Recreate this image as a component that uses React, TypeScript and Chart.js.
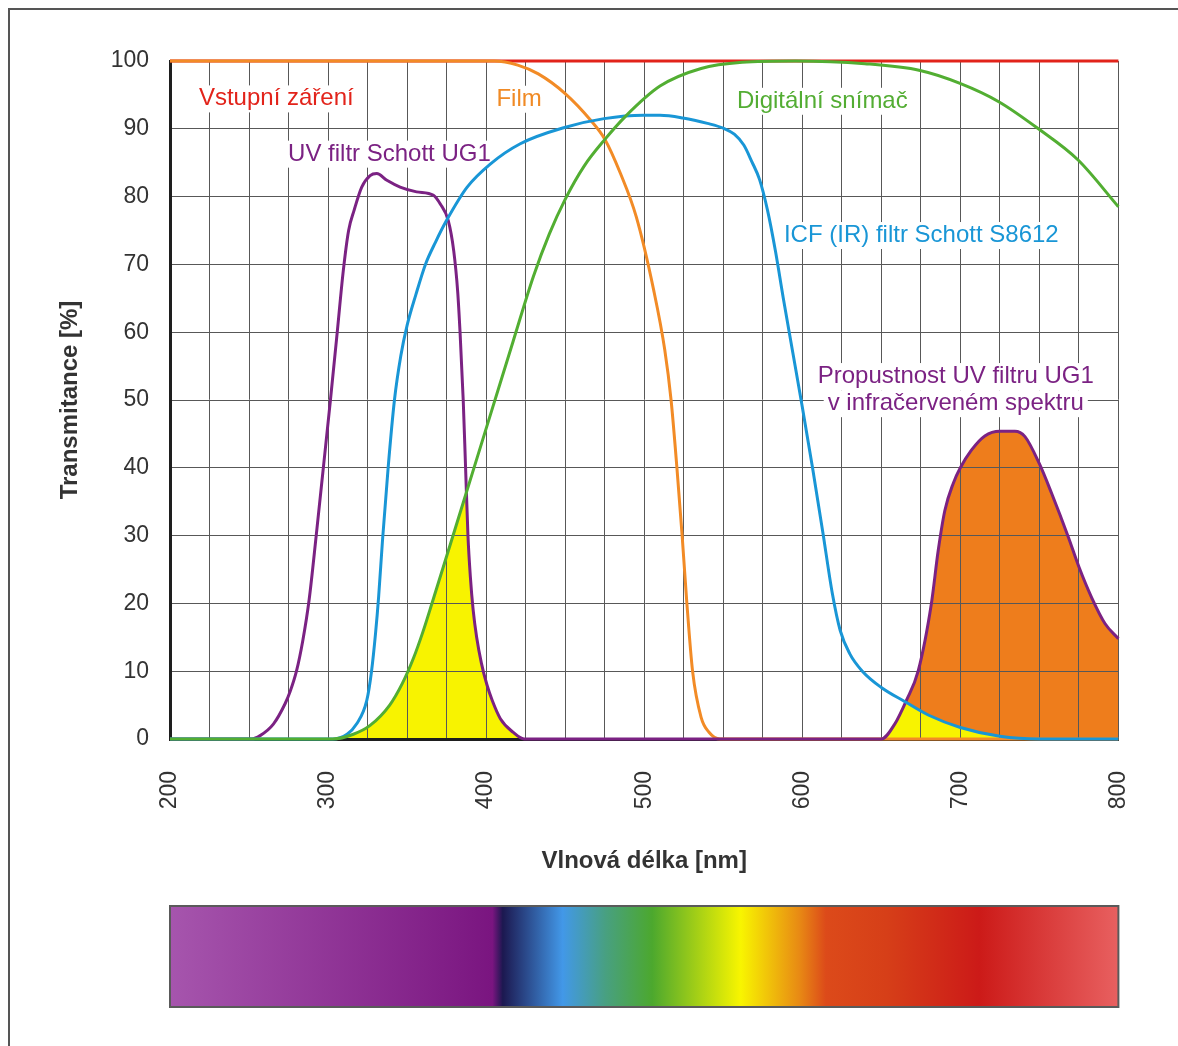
import { useEffect, useRef } from 'react';
import { Chart, registerables } from 'chart.js';

Chart.register(...registerables);

// ---------- data (wavelength nm -> transmittance %) ----------
const inputNm = [200, 800];
const inputT = [100, 100];

const filmNm = [200, 405, 420, 433, 450, 466, 475, 485, 495, 506, 513, 517, 520.7, 524, 527, 530.6, 536, 541, 548, 800];
const filmT = [100, 100, 99.4, 98.1, 95.2, 91.3, 88.5, 83.4, 77, 66.2, 57.4, 50, 40, 30, 20, 10, 3.2, 1, 0, 0];

const sensorNm = [200, 303, 316, 326.6, 339, 347, 354, 360, 366, 378, 391, 404, 417, 430, 440, 450, 462, 475, 488, 510, 536, 562, 595.6, 639.6, 674.5, 699.8, 724.3, 749.4, 774.5, 800];
const sensorT = [0, 0, 0.7, 2.0, 5.0, 8.2, 11.9, 15.8, 20.2, 29.2, 39, 48.8, 58.6, 68.3, 74.5, 79.6, 84.5, 88.4, 91.8, 96.3, 98.9, 99.8, 100, 99.6, 98.6, 96.7, 94, 90, 85.4, 78.5];

const icfNm = [200, 303, 312, 318, 324.5, 327.5, 330, 332, 334.5, 338, 342, 346, 350, 355.5, 361.6, 368, 375, 388, 402.6, 421.6, 449.6, 474.6, 499.5, 510, 524.5, 540, 550, 557, 563, 568, 573, 578, 583, 588, 594, 600, 606.5, 613, 619, 624, 630, 638, 650, 665, 680, 700, 725, 750, 800];
const icfT = [0, 0, 0.7, 2.2, 5.7, 10, 15.5, 21, 29.5, 40, 50, 56.5, 61, 65.5, 70, 73.3, 76.5, 81.4, 84.8, 87.8, 90.2, 91.5, 92, 92, 91.6, 90.8, 90.1, 89.2, 87.6, 85.2, 82.5, 78, 72, 65, 57, 49, 40, 30.5, 21.5, 16, 12.6, 10, 7.6, 5.5, 3.5, 1.7, 0.4, 0, 0];

const ug1Nm = [200, 251.7, 257, 265.4, 272.8, 276, 280, 284, 288, 292.5, 297, 301.5, 305.8, 309.6, 313, 316.5, 321.3, 326.6, 330.8, 337.2, 345.6, 356, 366.7, 371, 376, 379.5, 382, 383.5, 385.5, 387, 388.5, 390, 391.8, 394, 397, 400.5, 404, 409, 417, 424, 650, 658.5, 665.9, 673.3, 681.7, 686, 690.2, 695.5, 700, 707, 715.5, 725, 734.5, 740.9, 750, 757.8, 768.3, 775, 783, 791.6, 800];
const ug1T = [0, 0, 0.5, 2.2, 5.2, 7, 10, 14.5, 20.5, 30, 40, 50, 60, 69, 75, 78, 81.4, 83.1, 83.4, 82.4, 81.4, 80.7, 80.2, 78.9, 76.5, 72, 66, 60, 50, 40, 30, 24, 19, 15, 11.2, 8, 5.6, 3, 1, 0, 0, 2.2, 5.7, 10, 20, 27.8, 33.7, 37.7, 40, 42.6, 44.7, 45.4, 45.4, 44.6, 40.6, 36.2, 29.8, 25.4, 20.9, 17, 14.8];

// annotation labels (position in data units)
const labelTexts = ['Vstupní záření', 'Film', 'Digitální snímač', 'UV filtr Schott UG1', 'ICF (IR) filtr Schott S8612', 'Propustnost UV filtru UG1', 'v infračerveném spektru'];
const labelNm = [218.3, 406.5, 558.7, 274.7, 588.4, 697.1, 697.1];
const labelT = [93.45, 93.4, 93.1, 85.3, 73.3, 52.5, 48.5];
const labelAlign = ['left', 'left', 'left', 'left', 'left', 'center', 'center'];
const labelColors = ['#e2231a', '#f08a25', '#53ad33', '#7b2283', '#1996d6', '#7b2283', '#7b2283'];

// spectrum bar stops
const spectrumNm = [200, 404, 410.5, 448.4, 475.8, 505, 561, 598, 615, 653, 712, 800];
const spectrumColors = ['#a655ad', '#7a1580', '#1c1850', '#4298e8', '#48a080', '#4ca82e', '#f8f500', '#e88a14', '#dc4a1a', '#d63f18', '#cc1a18', '#e86060'];

const xTicksLabeled = [200, 300, 400, 500, 600, 700, 800];

const C_RED = '#e2231a';
const C_FILM = '#f28b26';
const C_GREEN = '#52ae32';
const C_BLUE = '#1996d6';
const C_PURPLE = '#7b2283';
const C_YELLOW = '#f8f300';
const C_ORANGE_FILL = '#ee7d1c';
const C_GRID = '#585858';
const FONT = '"Liberation Sans", Arial, Helvetica, sans-serif';

const uvRange = [200, 550];
const irRange = [550, 800];

const toPoints = (xs: number[], ys: number[]) => xs.map((x, i) => ({ x, y: ys[i] }));

function areaPath(ctx: CanvasRenderingContext2D, chart: any, meta: any) {
  const line = meta.dataset;
  const pts = meta.data;
  const bottom = chart.scales.y.getPixelForValue(0);
  ctx.beginPath();
  if (line && typeof line.path === 'function') {
    if (typeof line.updateControlPoints === 'function') line.updateControlPoints(chart.chartArea, 'x');
    line.path(ctx);
  } else {
    pts.forEach((p: any, i: number) => (i ? ctx.lineTo(p.x, p.y) : ctx.moveTo(p.x, p.y)));
  }
  ctx.lineTo(pts[pts.length - 1].x, bottom);
  ctx.lineTo(pts[0].x, bottom);
  ctx.closePath();
}

const fillPlugin = {
  id: 'bandFills',
  beforeDraw(chart: any) {
    const ctx = chart.ctx as CanvasRenderingContext2D;
    const a = chart.chartArea;
    const xs = chart.scales.x;
    const mGreen = chart.getDatasetMeta(0);
    const mBlue = chart.getDatasetMeta(1);
    const mPurple = chart.getDatasetMeta(2);
    ctx.save();
    ctx.beginPath();
    ctx.rect(a.left, a.top, a.width, a.height);
    ctx.clip();

    // IR band: orange under UG1, yellow under min(UG1, ICF)
    ctx.save();
    const ir0 = xs.getPixelForValue(irRange[0]);
    const ir1 = xs.getPixelForValue(irRange[1]);
    ctx.beginPath();
    ctx.rect(ir0, a.top, ir1 - ir0, a.height);
    ctx.clip();
    areaPath(ctx, chart, mPurple);
    ctx.fillStyle = C_ORANGE_FILL;
    ctx.fill();
    areaPath(ctx, chart, mBlue);
    ctx.clip();
    areaPath(ctx, chart, mPurple);
    ctx.fillStyle = C_YELLOW;
    ctx.fill();
    ctx.restore();

    // UV band: yellow under min(UG1, sensor)
    ctx.save();
    const uv0 = xs.getPixelForValue(uvRange[0]);
    const uv1 = xs.getPixelForValue(uvRange[1]);
    ctx.beginPath();
    ctx.rect(uv0, a.top, uv1 - uv0, a.height);
    ctx.clip();
    areaPath(ctx, chart, mGreen);
    ctx.clip();
    areaPath(ctx, chart, mPurple);
    ctx.fillStyle = C_YELLOW;
    ctx.fill();
    ctx.restore();

    ctx.restore();
  },
};

const labelPlugin = {
  id: 'curveLabels',
  beforeDatasetsDraw(chart: any) {
    const ctx = chart.ctx as CanvasRenderingContext2D;
    const xs = chart.scales.x;
    const ys = chart.scales.y;
    ctx.save();
    ctx.font = `24px ${FONT}`;
    ctx.textBaseline = 'alphabetic';
    labelTexts.forEach((t, i) => {
      const x = xs.getPixelForValue(labelNm[i]);
      const y = ys.getPixelForValue(labelT[i]);
      const w = ctx.measureText(t).width;
      const left = labelAlign[i] === 'center' ? x - w / 2 : x;
      ctx.fillStyle = '#ffffff';
      ctx.fillRect(left - 4, y - 20, w + 8, 27);
    });
    labelTexts.forEach((t, i) => {
      const x = xs.getPixelForValue(labelNm[i]);
      const y = ys.getPixelForValue(labelT[i]);
      ctx.textAlign = labelAlign[i] as CanvasTextAlign;
      ctx.fillStyle = labelColors[i];
      ctx.fillText(t, x, y);
    });
    ctx.restore();
  },
};

const decorPlugin = {
  id: 'decor',
  afterDraw(chart: any) {
    const ctx = chart.ctx as CanvasRenderingContext2D;
    const xs = chart.scales.x;
    const a = chart.chartArea;
    const x0 = xs.getPixelForValue(spectrumNm[0]);
    const x1 = xs.getPixelForValue(spectrumNm[spectrumNm.length - 1]);
    const top = a.bottom + 167;
    const h = 101;
    ctx.save();
    const g = ctx.createLinearGradient(x0, 0, x1, 0);
    spectrumNm.forEach((nm, i) => {
      g.addColorStop((xs.getPixelForValue(nm) - x0) / (x1 - x0), spectrumColors[i]);
    });
    ctx.fillStyle = g;
    ctx.fillRect(x0, top, x1 - x0, h);
    ctx.strokeStyle = '#5a5a5a';
    ctx.lineWidth = 2;
    ctx.strokeRect(x0, top, x1 - x0, h);
    // outer frame
    ctx.strokeStyle = '#555555';
    ctx.lineWidth = 2;
    ctx.strokeRect(9, 9, 1400, 1400);
    ctx.restore();
  },
};

export default function App() {
  const ref = useRef<HTMLCanvasElement | null>(null);
  useEffect(() => {
    if (!ref.current) return;
    const lineDs = (label: string, xs: number[], ys: number[], color: string) => ({
      label,
      data: toPoints(xs, ys),
      borderColor: color,
      backgroundColor: color,
      borderWidth: 3,
      pointRadius: 0,
      cubicInterpolationMode: 'monotone' as const,
      fill: false,
      clip: 6,
    });
    const chart = new Chart(ref.current, {
      type: 'line',
      data: {
        datasets: [
          lineDs('Digitální snímač', sensorNm, sensorT, C_GREEN),
          lineDs('ICF (IR) filtr Schott S8612', icfNm, icfT, C_BLUE),
          lineDs('UV filtr Schott UG1', ug1Nm, ug1T, C_PURPLE),
          lineDs('Film', filmNm, filmT, C_FILM),
          lineDs('Vstupní záření', inputNm, inputT, C_RED),
        ],
      },
      options: {
        animation: false,
        responsive: false,
        events: [],
        layout: { padding: { left: 0, top: 61, right: 58, bottom: 170 } },
        plugins: { legend: { display: false }, tooltip: { enabled: false } },
        scales: {
          x: {
            type: 'linear',
            min: 200,
            max: 800,
            afterFit: (s: any) => { s.height = 137; },
            ticks: {
              stepSize: 25,
              autoSkip: false,
              minRotation: 90,
              maxRotation: 90,
              padding: 32,
              color: '#333333',
              font: { family: FONT, size: 23 },
              callback: (v: any) => (xTicksLabeled.includes(Number(v)) ? String(v) : ''),
            },
            grid: { color: C_GRID, lineWidth: 1, drawTicks: false },
            border: { display: true, color: '#1e1e1e', width: 3 },
            title: {
              display: true,
              text: 'Vlnová délka [nm]',
              color: '#333333',
              padding: { top: 0, bottom: 0 },
              font: { family: FONT, size: 24, weight: 'bold' },
            },
          },
          y: {
            min: 0,
            max: 100,
            afterFit: (s: any) => { s.width = 170; },
            ticks: {
              stepSize: 10,
              padding: 21,
              color: '#333333',
              font: { family: FONT, size: 23 },
            },
            grid: { color: C_GRID, lineWidth: 1, drawTicks: false },
            border: { display: true, color: '#1e1e1e', width: 3 },
            title: {
              display: true,
              text: 'Transmitance [%]',
              color: '#333333',
              padding: { top: 56, bottom: 0 },
              font: { family: FONT, size: 24, weight: 'bold' },
            },
          },
        },
      },
      plugins: [fillPlugin, labelPlugin, decorPlugin],
    });
    return () => chart.destroy();
  }, []);
  return (
    <div style={{ position: 'absolute', left: 0, top: 0, width: 1178, height: 1046, background: '#fff' }}>
      <canvas ref={ref} width={1178} height={1046} style={{ display: 'block', width: 1178, height: 1046 }} />
    </div>
  );
}
